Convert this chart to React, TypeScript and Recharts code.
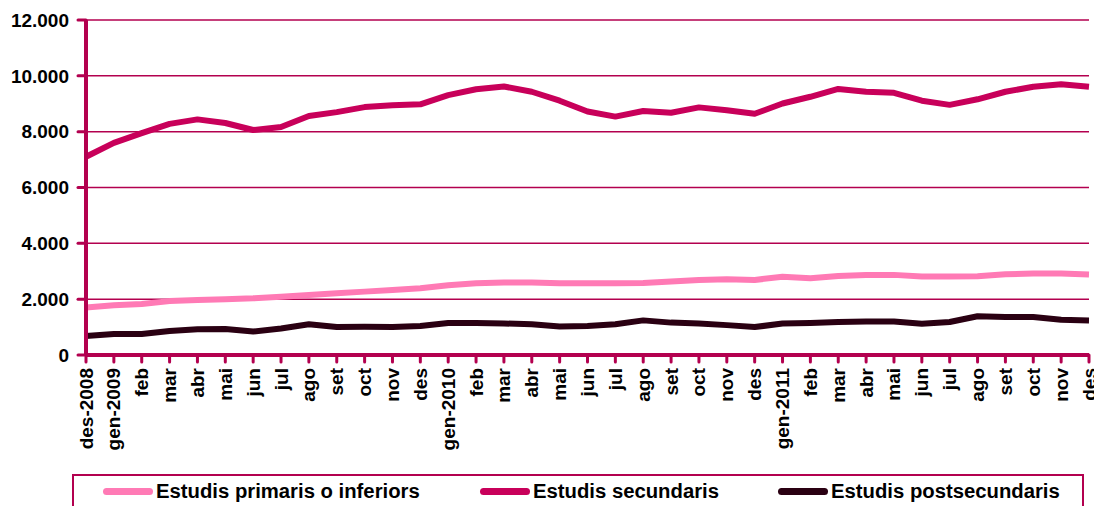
import React from 'react';
import { LineChart, Line, XAxis, YAxis, CartesianGrid, Legend } from 'recharts';

// mesos (des-2008 .. des-2011)
const months = [
  'des-2008', 'gen-2009', 'feb', 'mar', 'abr', 'mai', 'jun', 'jul', 'ago', 'set', 'oct', 'nov', 'des',
  'gen-2010', 'feb', 'mar', 'abr', 'mai', 'jun', 'jul', 'ago', 'set', 'oct', 'nov', 'des',
  'gen-2011', 'feb', 'mar', 'abr', 'mai', 'jun', 'jul', 'ago', 'set', 'oct', 'nov', 'des',
];

const primaris = [
  1700, 1780, 1830, 1930, 1970, 2000, 2030, 2090, 2150, 2210, 2270, 2330, 2390,
  2500, 2570, 2600, 2600, 2570, 2570, 2570, 2580, 2630, 2690, 2710, 2690,
  2800, 2750, 2830, 2870, 2870, 2810, 2810, 2820, 2890, 2920, 2920, 2880,
];

const secundaris = [
  7100, 7600, 7950, 8280, 8440, 8310, 8060, 8170, 8560, 8700, 8880, 8950, 8980,
  9310, 9520, 9620, 9430, 9110, 8720, 8540, 8740, 8680, 8870, 8770, 8640,
  9010, 9250, 9530, 9430, 9390, 9110, 8960, 9160, 9430, 9610, 9700, 9610,
];

const postsecundaris = [
  680, 750, 750, 860, 920, 930, 840, 950, 1100, 1000, 1010, 1000, 1040,
  1150, 1150, 1130, 1100, 1020, 1040, 1100, 1240, 1160, 1130, 1070, 1000,
  1130, 1150, 1180, 1200, 1200, 1120, 1180, 1390, 1360, 1360, 1260, 1240,
];

const yTicks = [0, 2000, 4000, 6000, 8000, 10000, 12000];

const series = [
  { key: 'primaris', name: 'Estudis primaris o inferiors', color: '#ff7ab5' },
  { key: 'secundaris', name: 'Estudis secundaris', color: '#c8005a' },
  { key: 'postsecundaris', name: 'Estudis postsecundaris', color: '#2a0012' },
];

const data = months.map((m, i) => ({
  month: m,
  primaris: primaris[i],
  secundaris: secundaris[i],
  postsecundaris: postsecundaris[i],
}));

const AXIS = '#b3004f';
const FONT = '"Liberation Sans", Arial, sans-serif';
const itemWidths = [377, 298, undefined];

const fmt = (v: number) => String(v).replace(/\B(?=(\d{3})+(?!\d))/g, '.');

const MonthTick = (props: any) => {
  const { x, y, payload } = props;
  return (
    <text
      x={x}
      y={y}
      transform={`rotate(-90, ${x}, ${y})`}
      textAnchor="end"
      dominantBaseline="central"
      fontFamily={FONT}
      fontWeight="bold"
      fontSize={19}
      fill="#000"
    >
      {payload.value}
    </text>
  );
};

const LegendBox = () => (
  <div
    style={{
      boxSizing: 'border-box',
      height: 32,
      border: `2px solid ${AXIS}`,
      borderBottom: 'none',
      display: 'flex',
      alignItems: 'center',
      paddingLeft: 29,
      fontFamily: FONT,
      fontWeight: 'bold',
      fontSize: 20.3,
      color: '#000',
      whiteSpace: 'nowrap',
    }}
  >
    {series.map((s, i) => (
      <div key={s.key} style={{ display: 'flex', alignItems: 'center', width: itemWidths[i], flexShrink: 0 }}>
        <span
          style={{
            display: 'inline-block',
            width: 50,
            height: 7,
            borderRadius: 4,
            background: s.color,
            marginRight: 3,
          }}
        />
        <span>{s.name}</span>
      </div>
    ))}
  </div>
);

export default function App() {
  return (
    <div style={{ position: 'absolute', left: 0, top: 0, width: 1094, height: 506, overflow: 'hidden', background: '#fff' }}>
      <LineChart width={1094} height={506} data={data} margin={{ top: 20, right: 5, left: 0, bottom: 0 }}>
        <CartesianGrid horizontal vertical={false} stroke={AXIS} strokeWidth={1.5} />
        <XAxis
          dataKey="month"
          interval={0}
          height={119}
          tick={<MonthTick />}
          tickSize={7}
          tickMargin={6}
          axisLine={{ stroke: AXIS, strokeWidth: 4 }}
          tickLine={{ stroke: AXIS, strokeWidth: 3, strokeLinecap: 'round' }}
        />
        <YAxis
          width={86}
          domain={[0, 12000]}
          ticks={yTicks}
          tickFormatter={fmt}
          tickSize={8}
          tickMargin={9}
          interval={0}
          axisLine={{ stroke: AXIS, strokeWidth: 4 }}
          tickLine={{ stroke: AXIS, strokeWidth: 3, strokeLinecap: 'round' }}
          tick={{ fill: '#000', fontFamily: FONT, fontWeight: 'bold', fontSize: 19 }}
        />
        <Legend
          verticalAlign="bottom"
          content={<LegendBox />}
          wrapperStyle={{ left: 72, width: 1012, bottom: 0 }}
        />
        {series.map((s) => (
          <Line
            key={s.key}
            type="linear"
            dataKey={s.key}
            name={s.name}
            stroke={s.color}
            strokeWidth={6}
            strokeLinejoin="round"
            dot={false}
            activeDot={false}
            isAnimationActive={false}
          />
        ))}
      </LineChart>
    </div>
  );
}
